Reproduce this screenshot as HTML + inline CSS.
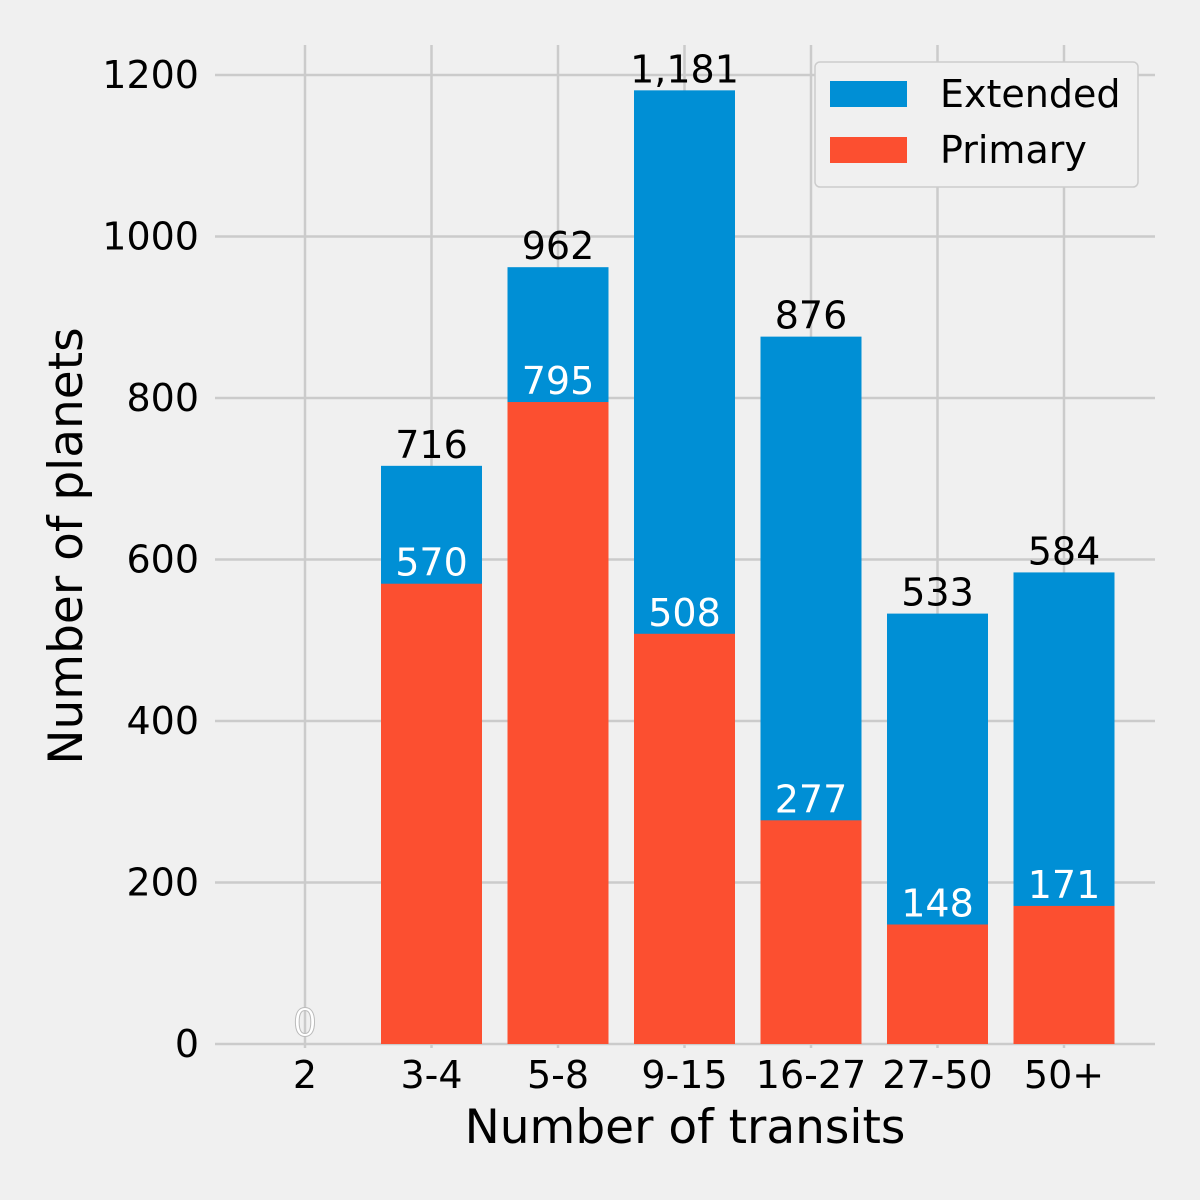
<!DOCTYPE html>
<html><head><meta charset="utf-8"><style>
html,body{margin:0;padding:0;background:#f0f0f0}
svg{display:block;font-family:"DejaVu Sans","Liberation Sans",sans-serif}
</style></head><body>
<svg id="chart" width="1200" height="1200" viewBox="0 0 1200 1200">
<rect width="1200" height="1200" fill="#f0f0f0"/>
<g id="grid"></g><g id="bars"></g><g id="labels"></g><g id="ticks"></g>
<text x="685" y="1143" font-size="47" text-anchor="middle" fill="#000">Number of transits</text>
<text transform="translate(82,546) rotate(-90)" font-size="47" text-anchor="middle" fill="#000">Number of planets</text>
<g>
<rect x="815" y="62" width="323" height="125" rx="5" fill="#f0f0f0" stroke="#cccccc" stroke-width="1.5"/>
<rect x="830" y="81" width="77" height="26" fill="#008fd5"/>
<text x="940" y="107" font-size="38" fill="#000">Extended</text>
<rect x="830" y="137" width="77" height="26" fill="#fc4f30"/>
<text x="940" y="163" font-size="38" fill="#000">Primary</text>
</g>
</svg>
<script>
const categories=["2","3-4","5-8","9-15","16-27","27-50","50+"];
const totalValues=[0,716,962,1181,876,533,584];
const primaryValues=[0,570,795,508,277,148,171];
const totalLabels=["0","716","962","1,181","876","533","584"];
const yTicks=[0,200,400,600,800,1000,1200];
const NS="http://www.w3.org/2000/svg";
const X0=305,DX=126.5,BW=101,Y0=1044,K=(1044-75)/1200;
const xs=i=>X0+i*DX, ys=v=>Y0-v*K;
function mk(t,a,p){const e=document.createElementNS(NS,t);for(const k in a)e.setAttribute(k,a[k]);p.appendChild(e);return e;}
const grid=document.getElementById('grid'),bars=document.getElementById('bars'),labels=document.getElementById('labels'),ticks=document.getElementById('ticks');
yTicks.forEach(v=>{
 const l=mk('line',{x1:215,x2:1155,y1:ys(v),y2:ys(v),stroke:'#cbcbcb','stroke-width':2.5},grid);
 
 
 const t=mk('text',{x:199,y:ys(v)+13,'font-size':38,'text-anchor':'end',fill:'#000'},ticks);
 t.textContent=v;
 
 
});
categories.forEach((c,i)=>{
 const l=mk('line',{x1:xs(i),x2:xs(i),y1:45,y2:1048,stroke:'#cbcbcb','stroke-width':2.5},grid);
 
 
 const t=mk('text',{x:xs(i),y:1088,'font-size':38,'text-anchor':'middle',fill:'#000'},ticks);
 t.textContent=c;
 
 
 const b1=mk('rect',{x:xs(i)-BW/2,y:ys(totalValues[i]),width:BW,height:totalValues[i]*K,fill:'#008fd5'},bars);
 
 
 const b2=mk('rect',{x:xs(i)-BW/2,y:ys(primaryValues[i]),width:BW,height:primaryValues[i]*K,fill:'#fc4f30'},bars);
 
 
 const t1=mk('text',{x:xs(i),y:ys(totalValues[i])-8,'font-size':38,'text-anchor':'middle',fill:'#000'},labels);
 t1.textContent=totalLabels[i];
 
 
 const t2=mk('text',{x:xs(i),y:ys(primaryValues[i])-8,'font-size':38,'text-anchor':'middle',fill:'#fff',stroke:primaryValues[i]===0?'#bbb':'none','stroke-width':1},labels);
 t2.textContent=primaryValues[i].toLocaleString('en-US');
 
 
});
</script>
</body></html>
